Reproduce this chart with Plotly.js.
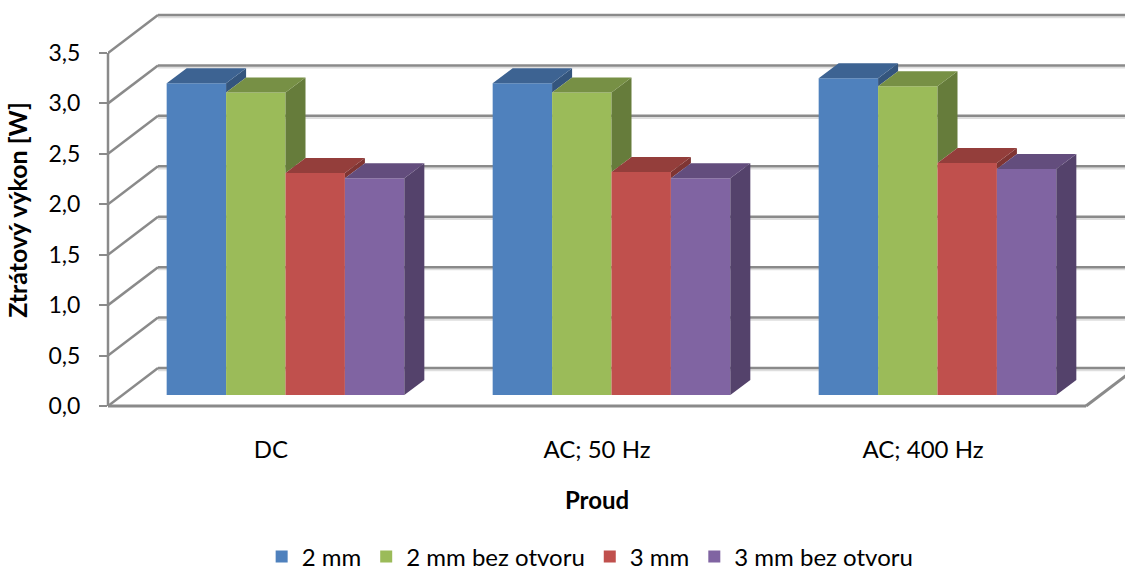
<!DOCTYPE html>
<html><head><meta charset="utf-8">
<script src="https://cdn.plot.ly/plotly-3.0.1.min.js"></script>
<style>html,body{margin:0;padding:0;background:#fff}#chart{width:1125px;height:571px}</style>
</head><body><div id="chart"></div>
<script>
// ---- data ----
const categories = ['DC', 'AC; 50 Hz', 'AC; 400 Hz'];
const seriesNames = ['2 mm', '2 mm bez otvoru', '3 mm', '3 mm bez otvoru'];
const s2mm = [3.09, 3.09, 3.14];
const s2mmBez = [3.00, 3.00, 3.06];
const s3mm = [2.20, 2.21, 2.30];
const s3mmBez = [2.15, 2.15, 2.24];
const yTicks = [0, 0.5, 1, 1.5, 2, 2.5, 3, 3.5];
const xTitle = 'Proud';
const yTitle = 'Ztrátový výkon [W]';

// ---- style ----
const series = [s2mm, s2mmBez, s3mm, s3mmBez];
const frontColors = ['#4F81BD', '#9BBB59', '#C0504D', '#8064A2'];
const topColors = ['#3D6392', '#779045', '#943E3B', '#634D7D'];
const sideColors = ['#34557D', '#667C3B', '#7F3533', '#54426B'];
const gridColor = '#8a8a8a';

// ---- oblique projection geometry (pixel sizes converted into axis units) ----
const W = 1125, H = 571;
const L = 108, R = 39, T = 0, B = 151;
const plotW = W - L - R, plotH = H - T - B;
const nCat = categories.length;
const xPx = plotW / nCat;          // px per category
const yPx = 100.86;                // px per value unit
const y0px = 406 - T;              // pixel row of value 0 inside plot
const yRange = [-(plotH - y0px) / yPx, y0px / yPx];
const wallDx = 50 / xPx, wallDy = 38 / yPx;
const barDx0 = 14.5 / xPx, barDy0 = 11 / yPx;
const barDepthX = 20 / xPx, barDepthY = 15 / yPx;
const bargap = 0.271;
const barW = (1 - bargap) / series.length;

const traces = [];
// front faces (real bar traces)
series.forEach((vals, k) => {
  traces.push({
    type: 'bar', name: seriesNames[k],
    x: categories.map((c, i) => i + 0.5 + barDx0),
    y: vals, base: barDy0,
    marker: {color: frontColors[k], line: {width: 0}},
    customdata: categories,
    hovertemplate: '%{customdata}: %{y}<extra>' + seriesNames[k] + '</extra>'
  });
});
// side and top faces
series.forEach((vals, k) => {
  const sx = [], sy = [], tx = [], ty = [];
  vals.forEach((v, i) => {
    const c = i + 0.5 + barDx0;
    const left = c - (1 - bargap) / 2 + k * barW;
    const right = left + barW;
    const top = barDy0 + v;
    const next = k < series.length - 1 ? Math.min(series[k + 1][i], v) : 0;
    const bottom = barDy0 + next;
    sx.push(right, right + barDepthX, right + barDepthX, right, right, null);
    sy.push(bottom, bottom + barDepthY, top + barDepthY, top, bottom, null);
    tx.push(left, right, right + barDepthX, left + barDepthX, left, null);
    ty.push(top, top, top + barDepthY, top + barDepthY, top, null);
  });
  traces.push({type: 'scatter', mode: 'lines', x: sx, y: sy, fill: 'toself',
    fillcolor: sideColors[k], line: {width: 0, color: sideColors[k]},
    showlegend: false, hoverinfo: 'skip'});
  traces.push({type: 'scatter', mode: 'lines', x: tx, y: ty, fill: 'toself',
    fillcolor: topColors[k], line: {width: 0, color: topColors[k]},
    showlegend: false, hoverinfo: 'skip'});
});

// walls, gridlines, floor
const shapes = [];
const paperRight = (W - L) / plotW;
yTicks.forEach(t => {
  shapes.push({type: 'line', layer: 'below', xref: 'paper', yref: 'y',
    x0: wallDx / nCat, x1: paperRight, y0: t + wallDy - 2.2 / yPx, y1: t + wallDy - 2.2 / yPx,
    line: {color: '#dedede', width: 2}});
  shapes.push({type: 'line', layer: 'below', xref: 'x', yref: 'y',
    x0: 0, y0: t, x1: wallDx, y1: t + wallDy, line: {color: gridColor, width: 2.5}});
  shapes.push({type: 'line', layer: 'below', xref: 'paper', yref: 'y',
    x0: wallDx / nCat, x1: paperRight, y0: t + wallDy, y1: t + wallDy,
    line: {color: gridColor, width: 2.5}});
});
// floor front edge and right edge
shapes.push({type: 'line', layer: 'below', xref: 'x', yref: 'y',
  x0: 0, x1: nCat, y0: 0, y1: 0, line: {color: gridColor, width: 3}});
shapes.push({type: 'line', layer: 'below', xref: 'paper', yref: 'y',
  x0: 1, x1: 1 + wallDx / nCat, y0: 0, y1: wallDy, line: {color: gridColor, width: 3}});
// front value axis line
shapes.push({type: 'line', layer: 'below', xref: 'paper', yref: 'y',
  x0: 0, x1: 0, y0: yTicks[0], y1: yTicks[yTicks.length - 1], line: {color: gridColor, width: 2.5}});

const layout = {
  width: W, height: H,
  margin: {l: L, r: R, t: T, b: B, autoexpand: false},
  paper_bgcolor: '#ffffff', plot_bgcolor: 'rgba(0,0,0,0)',
  font: {family: 'Lato, "Open Sans", sans-serif', size: 23, color: '#000000'},
  barmode: 'group', bargap: bargap, bargroupgap: 0,
  showlegend: true,
  legend: {orientation: 'h', x: 0.493, xanchor: 'center', y: 1 - (557 - T) / plotH, yanchor: 'middle',
    font: {size: 24}, bgcolor: 'rgba(0,0,0,0)'},
  xaxis: {range: [0, nCat], tickvals: categories.map((c, i) => i + 0.5), ticktext: categories,
    tickfont: {size: 24},
    showgrid: false, zeroline: false, showline: false, ticks: '', automargin: false,
    ticklabelstandoff: 13, fixedrange: true,
    title: {text: xTitle, font: {size: 24, weight: 'bold'}, standoff: 30}},
  yaxis: {range: yRange, tickvals: yTicks, ticktext: yTicks.map(v => v.toFixed(1).replace('.', ',')),
    tickfont: {size: 23},
    showgrid: false, zeroline: false, showline: false, ticks: 'outside', ticklen: 8, tickwidth: 2,
    tickcolor: gridColor, ticklabelstandoff: 14, automargin: false, fixedrange: true,
    title: {text: yTitle, font: {size: 25, weight: 'bold'}, standoff: 13}},
  shapes: shapes
};

Plotly.newPlot('chart', traces, layout, {displayModeBar: false, staticPlot: true});
</script>
</body></html>
